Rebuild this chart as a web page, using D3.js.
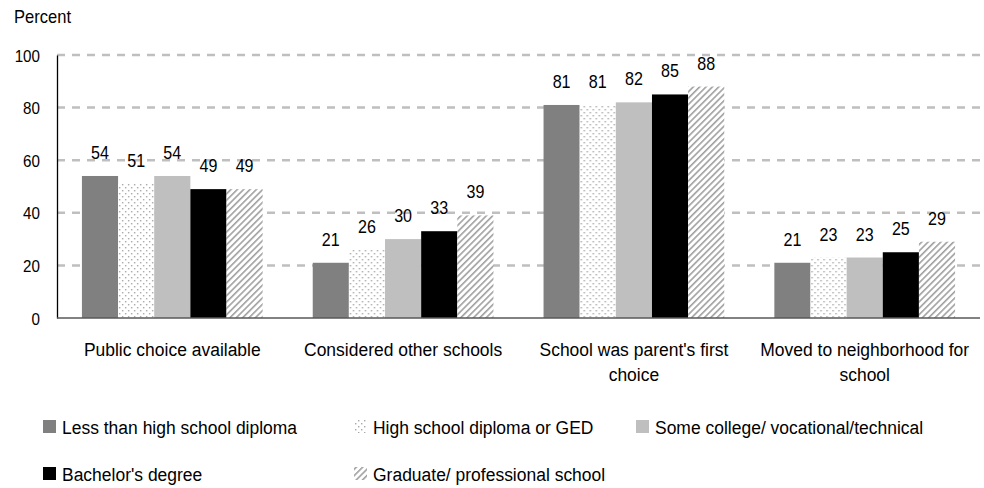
<!DOCTYPE html>
<html>
<head>
<meta charset="utf-8">
<script src="https://cdn.jsdelivr.net/npm/d3@7"></script>
<style>
  body { margin: 0; background: #fff; }
  text { font-family: "Liberation Sans", Arial, sans-serif; fill: #000; }
</style>
</head>
<body>
<div id="chart"></div>
<script>
// donnees
const categories = [
  ["Public choice available"],
  ["Considered other schools"],
  ["School was parent's first", "choice"],
  ["Moved to neighborhood for", "school"]
]
const series = [
  "Less than high school diploma",
  "High school diploma or GED",
  "Some college/ vocational/technical",
  "Bachelor's degree",
  "Graduate/ professional school"
]
const lessHS = [54, 21, 81, 21]
const hsGED = [51, 26, 81, 23]
const someCollege = [54, 30, 82, 23]
const bachelor = [49, 33, 85, 25]
const graduate = [49, 39, 88, 29]
const values = [lessHS, hsGED, someCollege, bachelor, graduate]
const yTicks = [0, 20, 40, 60, 80, 100]

const width = 984
const height = 488
const margin = {left: 57, right: 4, top: 55, bottom: 170}
const squeeze = 0.92 // police un peu condensee comme sur l'original

const svg = d3.select("#chart")
  .append("svg")
  .attr("width", width)
  .attr("height", height)

// texte condense
function addText(parent, x, y, size){
  return parent.append("text")
    .attr("transform", "translate(" + x + "," + y + ") scale(" + squeeze + ",1)")
    .attr("font-size", size + "px")
}

// motifs
const defs = svg.append("defs")
const dots = defs.append("pattern")
  .attr("id", "dots")
  .attr("patternUnits", "userSpaceOnUse")
  .attr("width", 6).attr("height", 6)
dots.append("rect").attr("width", 6).attr("height", 6).attr("fill", "#fff")
dots.append("rect").attr("x", 1).attr("y", 1).attr("width", 1.4).attr("height", 1.4).attr("fill", "#a8a8a8")
dots.append("rect").attr("x", 4).attr("y", 4).attr("width", 1.4).attr("height", 1.4).attr("fill", "#a8a8a8")

const hatch = defs.append("pattern")
  .attr("id", "hatch")
  .attr("patternUnits", "userSpaceOnUse")
  .attr("width", 4.5).attr("height", 4.5)
  .attr("patternTransform", "rotate(45)")
hatch.append("rect").attr("width", 4.5).attr("height", 4.5).attr("fill", "#fff")
hatch.append("rect").attr("x", 0).attr("y", 0).attr("width", 1.6).attr("height", 4.5).attr("fill", "#a0a0a0")

const fills = ["#808080", "url(#dots)", "#bfbfbf", "#000000", "url(#hatch)"]

// echelles
const x0 = d3.scaleBand()
  .domain(d3.range(categories.length))
  .range([margin.left, width - margin.right])
  .paddingInner(0.217)
  .paddingOuter(0.108)

const x1 = d3.scaleBand()
  .domain(d3.range(series.length))
  .range([0, x0.bandwidth()])

const y = d3.scaleLinear()
  .domain([0, 100])
  .range([height - margin.bottom, margin.top])

// grille
svg.append("g")
  .selectAll("line")
  .data(yTicks.filter(d => d > 0))
  .enter()
  .append("line")
  .attr("x1", margin.left)
  .attr("x2", width - margin.right)
  .attr("y1", d => y(d))
  .attr("y2", d => y(d))
  .attr("stroke", "#bfbfbf")
  .attr("stroke-width", 2.5)
  .attr("stroke-dasharray", "8,7")

// axe y
const yAxis = svg.append("g")
  .attr("transform", "translate(" + margin.left + ",0)")
  .call(d3.axisLeft(y).tickValues(yTicks).tickSize(0).tickPadding(0))
yAxis.select(".domain").attr("stroke", "#000").attr("stroke-width", 1.3)
yAxis.selectAll("text")
  .attr("x", 0)
  .attr("dy", null)
  .attr("transform", "translate(-17,6) scale(" + squeeze + ",1)")
  .attr("font-size", "16.5px")
  .attr("font-family", "Liberation Sans, Arial, sans-serif")
  .attr("fill", "#000")

addText(svg, 14, 23, 18).text("Percent")

// barres
const groups = svg.append("g")
  .selectAll("g")
  .data(categories)
  .enter()
  .append("g")
  .attr("transform", (d, i) => "translate(" + x0(i) + ",0)")

groups.each(function(cat, ci) {
  const g = d3.select(this)
  series.forEach(function(s, si) {
    const v = values[si][ci]
    g.append("rect")
      .attr("x", x1(si))
      .attr("y", y(v))
      .attr("width", x1.bandwidth())
      .attr("height", y(0) - y(v))
      .attr("fill", fills[si])
    addText(g, x1(si) + x1.bandwidth() / 2, y(v) - 17, 17.5)
      .attr("text-anchor", "middle")
      .text(v)
  })
})

// axe x
svg.append("line")
  .attr("x1", margin.left)
  .attr("x2", width - margin.right)
  .attr("y1", y(0))
  .attr("y2", y(0))
  .attr("stroke", "#595959")
  .attr("stroke-width", 1.3)

groups.each(function(cat) {
  const g = d3.select(this)
  cat.forEach(function(line, li) {
    addText(g, x0.bandwidth() / 2, y(0) + 38 + li * 25, 19)
      .attr("text-anchor", "middle")
      .text(line)
  })
})

// legende
const legendPos = [[43, 434], [354, 434], [636, 434], [43, 481], [354, 481]]
const legend = svg.append("g")
  .selectAll("g")
  .data(series)
  .enter()
  .append("g")
  .attr("transform", (d, i) => "translate(" + legendPos[i][0] + "," + legendPos[i][1] + ")")

legend.append("rect")
  .attr("x", 0)
  .attr("y", -14)
  .attr("width", 13)
  .attr("height", 13)
  .attr("fill", (d, i) => fills[i])

legend.each(function(d) {
  addText(d3.select(this), 19, 0, 19).text(d)
})
</script>
</body>
</html>
